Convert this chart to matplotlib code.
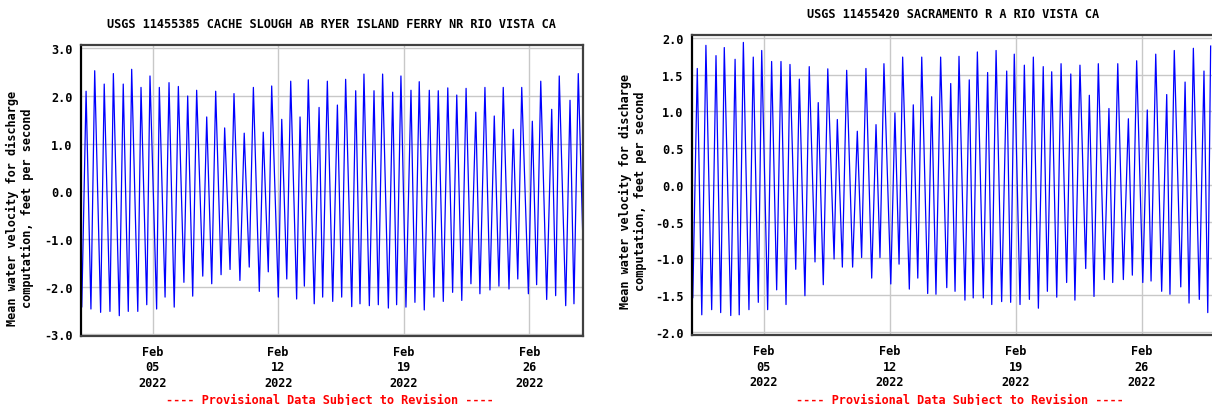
import numpy as np
import pandas as pd
import matplotlib
matplotlib.use("Agg")
import matplotlib.pyplot as plt
import matplotlib.dates as mdates

# ---- data (days after 2022-02-01 00:00, ft/s) ----
left_title = "USGS 11455385 CACHE SLOUGH AB RYER ISLAND FERRY NR RIO VISTA CA"
right_title = "USGS 11455420 SACRAMENTO R A RIO VISTA CA"
ylabel = "Mean water velocity for discharge\ncomputation, feet per second"
note = "---- Provisional Data Subject to Revision ----"

cache_hi_day = [0.30, 0.78, 1.31, 1.82, 2.37, 2.84, 3.36, 3.86, 4.38, 4.92, 5.44, 5.96,
                6.46, 7.02, 7.52, 8.02, 8.54, 9.11, 9.62, 10.17, 10.64, 11.20, 11.70,
                12.22, 12.68, 13.28, 13.74, 14.30, 14.76, 15.32, 15.78, 16.34, 16.82,
                17.38, 17.84, 18.40, 18.86, 19.42, 19.92, 20.45, 20.95, 21.47, 22.01,
                22.52, 23.04, 23.54, 24.10, 24.57, 25.16, 25.63, 26.24, 26.66, 27.26, 27.72]
cache_hi = [2.10, 2.53, 2.25, 2.47, 2.25, 2.56, 2.18, 2.42, 2.18, 2.28, 2.20, 2.00,
            2.12, 1.56, 2.10, 1.33, 2.05, 1.22, 2.18, 1.24, 2.21, 1.51, 2.31,
            1.56, 2.34, 1.76, 2.31, 1.81, 2.35, 2.11, 2.46, 2.11, 2.46,
            2.08, 2.42, 2.12, 2.30, 2.12, 2.11, 2.17, 2.02, 2.16, 1.66,
            2.18, 1.58, 2.18, 1.30, 2.18, 1.47, 2.31, 1.72, 2.42, 1.91, 2.47]
cache_lo_day = [0.00, 0.06, 0.57, 1.11, 1.63, 2.15, 2.65, 3.18, 3.68, 4.23, 4.70, 5.21,
                5.75, 6.24, 6.80, 7.30, 7.82, 8.32, 8.87, 9.39, 9.95, 10.45, 11.01,
                11.48, 12.03, 12.46, 13.01, 13.48, 14.04, 14.54, 15.10, 15.56, 16.08,
                16.58, 17.14, 17.60, 18.12, 18.62, 19.14, 19.68, 20.20, 20.72, 21.23,
                21.74, 22.24, 22.80, 23.30, 23.86, 24.35, 24.94, 25.40, 25.96, 26.46,
                27.02, 27.48, 27.98]
cache_lo = [-1.00, -2.43, -2.47, -2.54, -2.52, -2.61, -2.52, -2.52, -2.38, -2.47, -2.22, -2.43,
            -1.91, -2.20, -1.78, -1.94, -1.75, -1.64, -1.87, -1.59, -2.10, -1.69, -2.22,
            -1.84, -2.26, -1.99, -2.36, -2.22, -2.31, -2.22, -2.42, -2.36, -2.40,
            -2.38, -2.45, -2.38, -2.43, -2.33, -2.49, -2.22, -2.31, -2.12, -2.29,
            -1.94, -2.15, -2.07, -1.99, -2.05, -1.84, -2.15, -1.96, -2.27, -2.19,
            -2.40, -2.36, -1.06]

sac_hi_day = [0.31, 0.79, 1.35, 1.81, 2.41, 2.87, 3.42, 3.89, 4.44, 4.96, 5.46, 5.98,
              6.53, 7.03, 7.56, 8.09, 8.61, 9.20, 9.68, 10.24, 10.68, 11.29, 11.72,
              12.31, 12.78, 13.33, 13.83, 14.39, 14.85, 15.42, 15.87, 16.44, 16.91,
              17.50, 17.92, 18.48, 18.98, 19.53, 20.00, 20.52, 21.06, 21.57, 22.09,
              22.59, 23.18, 23.67, 24.26, 24.72, 25.31, 25.78, 26.39, 26.81, 27.41,
              27.87, 28.46, 28.83]
sac_hi = [1.585, 1.90, 1.76, 1.87, 1.71, 1.94, 1.74, 1.83, 1.68, 1.68, 1.64, 1.44,
          1.61, 1.12, 1.58, 0.89, 1.56, 0.73, 1.585, 0.82, 1.65, 0.98, 1.74,
          1.09, 1.74, 1.20, 1.74, 1.38, 1.75, 1.43, 1.81, 1.53, 1.83,
          1.55, 1.78, 1.63, 1.74, 1.61, 1.54, 1.65, 1.51, 1.63, 1.22,
          1.65, 1.04, 1.65, 0.90, 1.69, 1.02, 1.78, 1.23, 1.83, 1.40,
          1.86, 1.55, 1.89]
sac_lo_day = [0.00, 0.06, 0.56, 1.11, 1.61, 2.17, 2.64, 3.18, 3.70, 4.22, 4.72, 5.24,
              5.78, 6.29, 6.85, 7.31, 7.91, 8.37, 8.94, 9.44, 10.00, 10.46, 11.06,
              11.52, 12.09, 12.56, 13.11, 13.57, 14.17, 14.63, 15.18, 15.64, 16.20,
              16.67, 17.22, 17.72, 18.24, 18.76, 19.26, 19.76, 20.28, 20.83, 21.29,
              21.89, 22.35, 22.92, 23.39, 23.98, 24.48, 25.06, 25.52, 26.11, 26.57,
              27.17, 27.63, 28.20, 28.67]
sac_lo = [-0.55, -1.54, -1.77, -1.70, -1.74, -1.78, -1.77, -1.70, -1.60, -1.70, -1.43, -1.63,
          -1.15, -1.51, -1.05, -1.36, -1.01, -1.12, -1.12, -0.99, -1.27, -0.99, -1.35,
          -1.08, -1.42, -1.27, -1.48, -1.49, -1.40, -1.45, -1.57, -1.54, -1.54,
          -1.63, -1.59, -1.60, -1.63, -1.56, -1.68, -1.45, -1.53, -1.33, -1.57,
          -1.14, -1.52, -1.29, -1.33, -1.29, -1.23, -1.33, -1.31, -1.45, -1.49,
          -1.39, -1.61, -1.56, -1.74]

tick_dates = ["2022-02-05", "2022-02-12", "2022-02-19", "2022-02-26"]
start = pd.Timestamp("2022-02-01")

W, H = 1212, 406
fig = plt.figure(figsize=(W / 100, H / 100), dpi=100)
mono = "DejaVu Sans Mono"
fs = 8.6


def series(lo_day, lo, hi_day, hi):
    d = np.array(lo_day + hi_day)
    v = np.array(lo + hi)
    o = np.argsort(d)
    t = start + pd.to_timedelta(d[o], unit="D")
    return t, v[o]


def panel(rect, t, v, ylim, yticks, xend):
    ax = fig.add_axes(rect)
    ax.plot(t, v, color="#0000ff", lw=0.9)
    ax.set_xlim(start, start + pd.Timedelta(days=xend))
    ax.set_ylim(*ylim)
    ax.set_yticks(yticks)
    ax.set_yticklabels([f"{y:.1f}" for y in yticks])
    ax.set_xticks(pd.to_datetime(tick_dates))
    ax.xaxis.set_major_formatter(mdates.DateFormatter("%b\n%d\n%Y"))
    ax.grid(True, color="#c8c8c8", lw=1.0)
    ax.set_axisbelow(True)
    ax.tick_params(axis="x", length=0, pad=6.5)
    ax.tick_params(axis="y", length=0, pad=6)
    for lab in ax.get_xticklabels() + ax.get_yticklabels():
        lab.set_fontfamily(mono)
        lab.set_fontweight("bold")
        lab.set_fontsize(fs)
    for lab in ax.get_xticklabels():
        lab.set_linespacing(1.25)
    for s in ax.spines.values():
        s.set_linewidth(1.6)
        s.set_color("#404040")
    ax.spines["left"].set_color("black")
    return ax


def px(x0, y0, x1, y1):
    return [x0 / W, 1 - y1 / H, (x1 - x0) / W, (y1 - y0) / H]


# left panel
t, v = series(cache_lo_day, cache_lo, cache_hi_day, cache_hi)
panel(px(80.7, 46, 583.3, 336.7), t, v, (-3.03, 3.07),
      [-3.0, -2.0, -1.0, 0.0, 1.0, 2.0, 3.0], 28)

# right panel (cut off at the picture edge)
t, v = series(sac_lo_day, sac_lo, sac_hi_day, sac_hi)
panel(px(691.7, 35.7, 691.7 + 29.5 * 18.0, 336), t, v, (-2.045, 2.045),
      [-2.0, -1.5, -1.0, -0.5, 0.0, 0.5, 1.0, 1.5, 2.0], 29.5)

txt = dict(fontfamily=mono, fontweight="bold", fontsize=fs, ha="center", va="center")
fig.text(331 / W, 1 - 25 / H, left_title, **txt)
fig.text(953 / W, 1 - 15 / H, right_title, **txt)
fig.text(20 / W, 1 - 208 / H, ylabel, rotation=90, linespacing=1.2, **txt)
fig.text(633 / W, 1 - 191 / H, ylabel, rotation=90, linespacing=1.2, **txt)
fig.text(330 / W, 1 - 400 / H, note, color="red", **txt)
fig.text(960 / W, 1 - 400 / H, note, color="red", **txt)

fig.savefig("out.png", dpi=100)
